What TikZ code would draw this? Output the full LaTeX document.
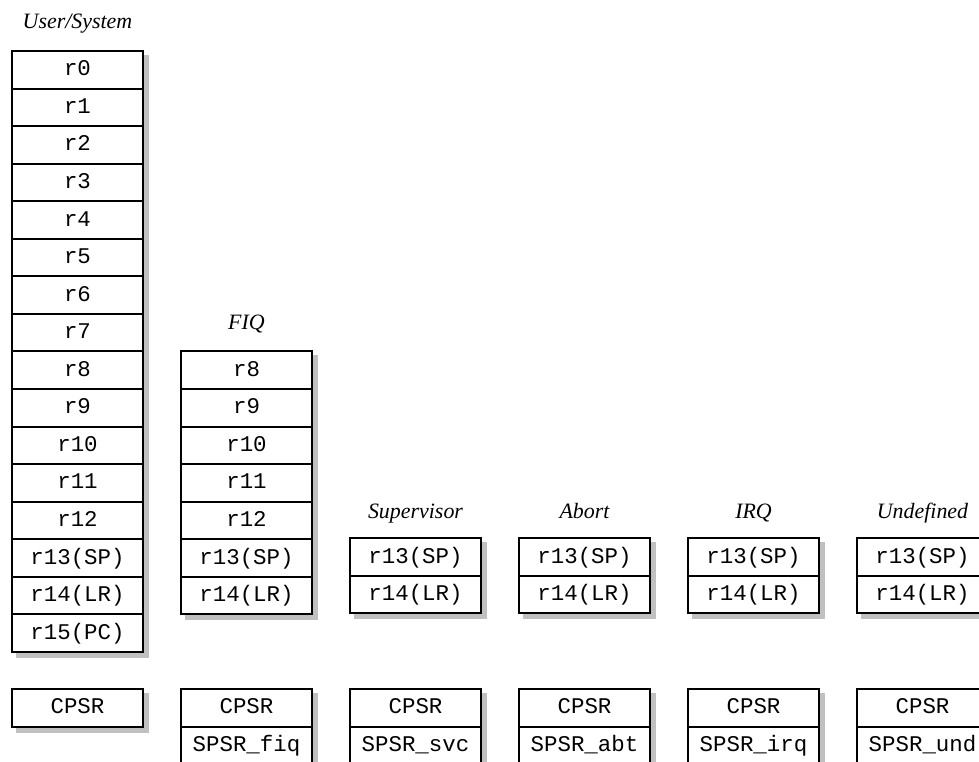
\documentclass[tikz,border=0pt]{standalone}
\usepackage{fontspec}
\setmainfont{Liberation Serif}
\newfontfamily\regfont{Liberation Mono}
\usetikzlibrary{backgrounds}
\definecolor{shadowgray}{RGB}{192,192,192}
\tikzset{
  cell/.style={draw=black, line width=2bp, fill=white, minimum width=131bp,
    minimum height=37.56bp, inner sep=0pt, text height=15bp, text depth=3bp,
    font=\regfont\fontsize{22.5}{26}\selectfont},
  modelabel/.style={font=\itshape\fontsize{22}{26}\selectfont, inner sep=0pt, anchor=base},
  shadowbox/.style={fill=shadowgray}
}
\begin{document}
\begin{tikzpicture}[x=1bp,y=-1bp]
\useasboundingbox (0,0) rectangle (979,762);
% ---------------- User/System ----------------
\node[modelabel] (lu) at (77.5,29) {User/System};
\foreach \t [count=\n from 0] in {r0,r1,r2,r3,r4,r5,r6,r7,r8,r9,r10,r11,r12,r13(SP),r14(LR),r15(PC)}{
  \pgfmathsetmacro\yc{51+37.56*(\n+0.5)}
  \node[cell] (u\n) at (77.5,\yc) {\t};
}
\node[cell] (uc) at (77.5,707.8) {CPSR};
% ---------------- FIQ ----------------
\node[modelabel] (lf) at (246.5,329) {FIQ};
\foreach \t [count=\n from 8] in {r8,r9,r10,r11,r12,r13(SP),r14(LR)}{
  \pgfmathsetmacro\yc{51+37.56*(\n+0.5)}
  \node[cell] (f\n) at (246.5,\yc) {\t};
}
\node[cell] (fc) at (246.5,707.8) {CPSR};
\node[cell] (fs) at (246.5,745.36) {SPSR\_fiq};
% ---------------- other modes ----------------
\foreach \x/\k/\lab/\sp in {415.5/s/Supervisor/svc, 584.5/a/Abort/abt, 753.5/i/IRQ/irq, 922.5/d/Undefined/und}{
  \node[modelabel] (l\k) at (\x,518) {\lab};
  \node[cell] (\k13) at (\x,557.06) {r13(SP)};
  \node[cell] (\k14) at (\x,594.62) {r14(LR)};
  \node[cell] (\k c) at (\x,707.8) {CPSR};
  \node[cell] (\k s) at (\x,745.36) {SPSR\_\sp};
}
% ---------------- shadows ----------------
\begin{scope}[on background layer]
  \fill[shadowbox] ([shift={(5,5)}]u0.north west) rectangle ([shift={(5,5)}]u15.south east);
  \fill[shadowbox] ([shift={(5,5)}]uc.north west) rectangle ([shift={(5,5)}]uc.south east);
  \fill[shadowbox] ([shift={(5,5)}]f8.north west) rectangle ([shift={(5,5)}]f14.south east);
  \fill[shadowbox] ([shift={(5,5)}]fc.north west) rectangle ([shift={(5,5)}]fs.south east);
  \foreach \k in {s,a,i,d}{
    \fill[shadowbox] ([shift={(5,5)}]\k13.north west) rectangle ([shift={(5,5)}]\k14.south east);
    \fill[shadowbox] ([shift={(5,5)}]\k c.north west) rectangle ([shift={(5,5)}]\k s.south east);
  }
\end{scope}
\end{tikzpicture}
\end{document}
